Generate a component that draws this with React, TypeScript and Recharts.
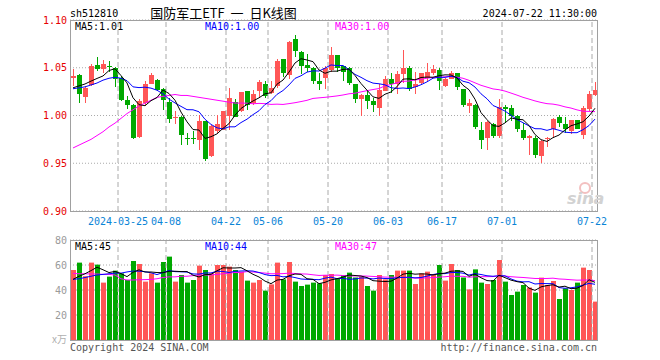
import React from 'react';
import { ComposedChart, Bar, Line, XAxis, YAxis, CartesianGrid, ReferenceLine } from 'recharts';

const dates = [
  '2024-03-13', '2024-03-14', '2024-03-15', '2024-03-18', '2024-03-19', '2024-03-20', '2024-03-21', '2024-03-22',
  '2024-03-25', '2024-03-26', '2024-03-27', '2024-03-28', '2024-03-29',
  '2024-04-01', '2024-04-02', '2024-04-03', '2024-04-08', '2024-04-09', '2024-04-10', '2024-04-11', '2024-04-12',
  '2024-04-15', '2024-04-16', '2024-04-17', '2024-04-18', '2024-04-19', '2024-04-22', '2024-04-23', '2024-04-24',
  '2024-04-25', '2024-04-26', '2024-04-29', '2024-04-30',
  '2024-05-06', '2024-05-07', '2024-05-08', '2024-05-09', '2024-05-10', '2024-05-13', '2024-05-14', '2024-05-15',
  '2024-05-16', '2024-05-17', '2024-05-20', '2024-05-21', '2024-05-22', '2024-05-23', '2024-05-24', '2024-05-27',
  '2024-05-28', '2024-05-29', '2024-05-30', '2024-05-31',
  '2024-06-03', '2024-06-04', '2024-06-05', '2024-06-06', '2024-06-07', '2024-06-11', '2024-06-12', '2024-06-13',
  '2024-06-14', '2024-06-17', '2024-06-18', '2024-06-19', '2024-06-20', '2024-06-21', '2024-06-24', '2024-06-25',
  '2024-06-26', '2024-06-27', '2024-06-28',
  '2024-07-01', '2024-07-02', '2024-07-03', '2024-07-04', '2024-07-05', '2024-07-08', '2024-07-09', '2024-07-10',
  '2024-07-11', '2024-07-12', '2024-07-15', '2024-07-16', '2024-07-17', '2024-07-18', '2024-07-19', '2024-07-22',
];

const opens = [
  1.039, 1.042, 1.019, 1.032, 1.053, 1.049, 1.052, 1.050, 1.0395, 1.016,
  1.0105, 0.977, 1.0133, 1.0335, 1.037, 1.028, 1.014, 0.997, 0.9986, 0.9765,
  0.976, 0.9748, 0.994, 0.9573, 0.9835, 0.9853, 1.000, 1.014, 1.0045, 1.0255,
  1.0133, 1.0255, 1.0335, 1.0238, 1.0307, 1.0587, 1.042, 1.0804, 1.0663, 1.0534,
  1.050, 1.036, 1.0395, 1.0475, 1.0629, 1.0517, 1.050, 1.0325, 1.0175, 1.021,
  1.015, 1.008, 1.026, 1.0385, 1.0325, 1.043, 1.050, 1.030, 1.0343, 1.0395,
  1.0447, 1.048, 1.0307, 1.0385, 1.044, 1.028, 1.0097, 1.0115, 0.985, 0.9766,
  0.9915, 0.979, 1.009, 1.008, 1.000, 0.9846, 0.9766, 0.9766, 0.9573, 0.975,
  0.986, 0.9986, 0.9916, 0.9835, 0.995, 0.980, 1.007, 1.021,
];
const highs = [
  1.049, 1.043, 1.031, 1.054, 1.061, 1.058, 1.057, 1.051, 1.041, 1.020,
  1.012, 1.017, 1.036, 1.044, 1.038, 1.029, 1.0185, 1.0045, 0.999, 0.982,
  0.9835, 1.001, 0.994, 0.990, 1.001, 1.005, 1.029, 1.0168, 1.025, 1.0255,
  1.027, 1.0367, 1.036, 1.036, 1.0594, 1.059, 1.078, 1.0838, 1.0674, 1.064,
  1.0505, 1.0447, 1.0517, 1.072, 1.063, 1.052, 1.051, 1.033, 1.022, 1.027,
  1.0185, 1.0325, 1.041, 1.0447, 1.0464, 1.0684, 1.052, 1.0454, 1.045, 1.0552,
  1.0534, 1.050, 1.0395, 1.0464, 1.0447, 1.028, 1.0175, 1.012, 0.993, 0.994,
  0.9924, 1.0168, 1.0105, 1.0105, 1.001, 0.9924, 0.980, 0.9783, 0.974, 0.978,
  0.9976, 1.001, 0.9986, 0.9955, 0.995, 1.0097, 1.0255, 1.035,
];
const lows = [
  1.031, 1.013, 1.013, 1.031, 1.046, 1.044, 1.046, 1.030, 1.015, 1.006,
  0.975, 0.976, 1.010, 1.033, 1.025, 1.006, 0.9927, 0.9906, 0.969, 0.9696,
  0.9696, 0.964, 0.952, 0.956, 0.982, 0.985, 0.985, 0.998, 1.0045, 1.006,
  1.0115, 1.0185, 1.0185, 1.022, 1.029, 1.040, 1.038, 1.061, 1.043, 1.0447,
  1.0325, 1.0265, 1.028, 1.046, 1.0447, 1.036, 1.0325, 1.0133, 0.9986, 1.007,
  1.0035, 0.9986, 1.025, 1.0238, 1.022, 1.0343, 1.0255, 1.022, 1.0325, 1.036,
  1.043, 1.027, 1.030, 1.038, 1.027, 1.009, 1.003, 0.986, 0.965, 0.964,
  0.9766, 0.9756, 0.993, 0.994, 0.9835, 0.975, 0.959, 0.9557, 0.9497, 0.9678,
  0.9766, 0.9888, 0.982, 0.981, 0.9853, 0.975, 1.0045, 1.020,
];
const closes = [
  1.041, 1.023, 1.029, 1.052, 1.049, 1.054, 1.0515, 1.0385, 1.016, 1.0105,
  0.9765, 1.015, 1.0335, 1.042, 1.027, 1.016, 0.9965, 0.9985, 0.980, 0.976,
  0.9755, 0.994, 0.9546, 0.9888, 0.991, 1.0045, 1.0185, 0.9986, 1.0244, 1.0115,
  1.023, 1.035, 1.020, 1.029, 1.0569, 1.0447, 1.0768, 1.0674, 1.0517, 1.050,
  1.036, 1.0332, 1.050, 1.0629, 1.050, 1.0454, 1.0343, 1.0168, 1.021, 1.015,
  1.0105, 1.0265, 1.0385, 1.0325, 1.043, 1.050, 1.028, 1.0332, 1.0447, 1.0454,
  1.049, 1.036, 1.0377, 1.044, 1.030, 1.0105, 1.0126, 0.988, 0.974, 0.993,
  0.979, 1.009, 1.0063, 1.000, 0.986, 0.9766, 0.979, 0.959, 0.973, 0.9766,
  0.9965, 0.9924, 0.986, 0.995, 0.986, 1.008, 1.022, 1.027,
];
// 成交量（万手）
const volumes = [
  56, 61.9, 51, 61.9, 60.3, 45.9, 50.7, 55.5, 53.3, 48,
  63.2, 60.8, 46.7, 53.3, 45.9, 62.4, 66.7, 46.7, 52, 45.9,
  48, 59.5, 56, 53.3, 60, 60, 58.7, 56, 54.7, 47.5,
  45.9, 48, 39.5, 44.5, 61.9, 48.5, 62.4, 46.7, 43.2, 44.3,
  45.9, 45.3, 52, 52.8, 49.3, 52, 53.9, 50, 50.7, 43.2,
  39.5, 52, 48.5, 52, 55.5, 55.5, 55.5, 44.8, 53.3, 54.7,
  52, 60, 47.5, 60.8, 56, 50, 40.5, 56.5, 45.9, 44.8,
  48, 64, 46.7, 36, 38.7, 44, 42, 37.9, 49.9, 44,
  47.2, 32.8, 41.3, 40, 45.9, 57.9, 56, 30.7,
];

// moving-average values before a full window exists
const ma5Head = [1.029, 1.031, 1.033, 1.036];
const ma10Head = [1.028, 1.029, 1.030, 1.032, 1.034, 1.037, 1.039, 1.040, 1.039];
const ma30Head = [
  0.966, 0.969, 0.972, 0.975, 0.979, 0.983, 0.988, 0.992, 0.997, 1.002,
  1.006, 1.010, 1.013, 1.016, 1.019, 1.020, 1.021, 1.022, 1.021, 1.021,
  1.020, 1.019, 1.018, 1.017, 1.016, 1.015, 1.014, 1.013, 1.013,
];
const vma5Head = [48.5, 51, 53, 55.5];
const vma10Head = [48.5, 49, 50, 51, 52, 52.5, 53, 53.5, 53.5];
const vma30Head = [
  53.3, 53, 53, 52.8, 52.8, 52.5, 52.5, 52, 49, 48,
  48, 48.2, 48.3, 48.5, 49, 50, 50.5, 50.5, 51, 51,
  51.5, 52, 52, 52, 52.5, 53, 53.5, 54, 54,
];

const dateTicks = ['2024-03-25', '2024-04-08', '2024-04-22', '2024-05-06', '2024-05-20', '2024-06-03', '2024-06-17', '2024-07-01', '2024-07-22'];
const priceTicks = [0.9, 0.95, 1.0, 1.05, 1.1];
const volTicks = [0, 20, 40, 60, 80];
const volTop = 80;
const mainLegend = ['1.01', '1.00', '1.00'];
const volLegend = ['45', '44', '47'];

const RED = '#ff5656';
const GREEN = '#00a800';
const MONO = '"DejaVu Sans Mono", "Liberation Mono", monospace';

const movingAvg = (vals: number[], n: number, head: number[]) =>
  vals.map((_, i) => {
    if (i < n - 1) return head[i];
    let s = 0;
    for (let k = i - n + 1; k <= i; k++) s += vals[k];
    return s / n;
  });

const ma5 = movingAvg(closes, 5, ma5Head);
const ma10 = movingAvg(closes, 10, ma10Head);
const ma30 = movingAvg(closes, 30, ma30Head);
const vma5 = movingAvg(volumes, 5, vma5Head);
const vma10 = movingAvg(volumes, 10, vma10Head);
const vma30 = movingAvg(volumes, 30, vma30Head);

const rows = dates.map((date, i) => ({
  date,
  open: opens[i],
  high: highs[i],
  low: lows[i],
  close: closes[i],
  volume: volumes[i],
  up: closes[i] >= opens[i],
  ma5: ma5[i],
  ma10: ma10[i],
  ma30: ma30[i],
  vma5: vma5[i],
  vma10: vma10[i],
  vma30: vma30[i],
}));

const Candle = (props: any) => {
  const { x, y, height, payload } = props;
  if (!payload) return null;
  const { open, close, high, low, up } = payload;
  const k = height / (high - low);
  const yOf = (v: number) => y + (high - v) * k;
  const color = up ? RED : GREEN;
  const left = Math.floor(x);
  const top = Math.round(yOf(Math.max(open, close)));
  const bottom = Math.round(yOf(Math.min(open, close)));
  return (
    <g>
      <rect x={left + 2} y={Math.round(y)} width={1} height={Math.max(1, Math.round(height))} fill={color} />
      <rect x={left} y={top} width={5} height={Math.max(1, bottom - top)} fill={color} />
    </g>
  );
};

const VolBar = (props: any) => {
  const { x, y, height, payload } = props;
  if (!payload) return null;
  return <rect x={Math.floor(x)} y={y} width={5} height={height} fill={payload.up ? RED : GREEN} />;
};

const DateTick = (props: any) => {
  const { x, y, payload } = props;
  const v: string = payload.value;
  const label = v === dateTicks[0] ? v : v.slice(5);
  return (
    <text x={x - 3} y={y + 14} textAnchor="middle" fill="#0a84d6" fontSize={10} fontFamily={MONO}>
      {label}
    </text>
  );
};

// volume axis: 0 is shown as the unit "x万"; the top value is written in the overlay
const VolTick = (props: any) => {
  const { x, y, payload } = props;
  const v: number = payload.value;
  if (v === volTop) return null;
  if (v === 0) {
    return (
      <text x={x} y={y + 3} textAnchor="end" fill="#b0b0b0" fontSize={10} fontFamily='"Noto Sans CJK SC", sans-serif'>
        x万
      </text>
    );
  }
  return (
    <text x={x} y={y + 4} textAnchor="end" fill="#9a9a9a" fontSize={10} fontFamily={MONO}>
      {v}
    </text>
  );
};

const gridLines = () =>
  dateTicks.map((d) => (
    <ReferenceLine key={d} x={d} position="start" stroke="#aaaaaa" strokeDasharray="5 3" />
  ));

export default function App() {
  return (
    <div style={{ position: 'absolute', left: 0, top: 0, width: 660, height: 360, background: '#fff' }}>
      <div style={{ position: 'absolute', left: 0, top: 0 }}>
        <ComposedChart width={660} height={230} data={rows} margin={{ top: 20, right: 62, bottom: 0, left: 0 }}>
          <CartesianGrid vertical={false} stroke="#aaaaaa" strokeDasharray="1 2" />
          {gridLines()}
          <XAxis
            dataKey="date"
            ticks={dateTicks}
            interval={0}
            height={19}
            axisLine={false}
            tickLine={false}
            tickSize={0}
            tickMargin={0}
            tick={<DateTick />}
          />
          <YAxis
            domain={[0.9, 1.1]}
            ticks={priceTicks}
            interval={0}
            width={70}
            axisLine={false}
            tickLine={false}
            tickSize={0}
            tickMargin={3}
            tickFormatter={(v: number) => v.toFixed(2)}
            tick={{ fill: '#e60000', fontSize: 10, fontFamily: MONO }}
          />
          <Bar dataKey={(d: any) => [d.low, d.high]} shape={<Candle />} barSize={5} isAnimationActive={false} />
          <Line type="linear" dataKey="ma30" stroke="#ff00ff" strokeWidth={1} dot={false} isAnimationActive={false} />
          <Line type="linear" dataKey="ma10" stroke="#0000ff" strokeWidth={1} dot={false} isAnimationActive={false} />
          <Line type="linear" dataKey="ma5" stroke="#000000" strokeWidth={1} dot={false} isAnimationActive={false} />
        </ComposedChart>
      </div>
      <div style={{ position: 'absolute', left: 0, top: 220 }}>
        <ComposedChart width={660} height={140} data={rows} margin={{ top: 20, right: 62, bottom: 20, left: 0 }}>
          <CartesianGrid vertical={false} stroke="#aaaaaa" strokeDasharray="1 2" />
          {gridLines()}
          <XAxis dataKey="date" hide />
          <YAxis
            type="number"
            domain={[0, volTop]}
            ticks={volTicks}
            interval={0}
            allowDataOverflow
            width={70}
            axisLine={false}
            tickLine={false}
            tickSize={0}
            tickMargin={3}
            tick={<VolTick />}
          />
          <Bar dataKey="volume" shape={<VolBar />} barSize={5} isAnimationActive={false} />
          <Line type="linear" dataKey="vma30" stroke="#ff00ff" strokeWidth={1} dot={false} isAnimationActive={false} />
          <Line type="linear" dataKey="vma10" stroke="#0000ff" strokeWidth={1} dot={false} isAnimationActive={false} />
          <Line type="linear" dataKey="vma5" stroke="#000000" strokeWidth={1} dot={false} isAnimationActive={false} />
        </ComposedChart>
      </div>
      <div style={{ position: 'absolute', left: 70, top: 20, width: 528, height: 192, boxSizing: 'border-box', border: '1px solid #a0a0a0', pointerEvents: 'none' }} />
      <div style={{ position: 'absolute', left: 70, top: 240, width: 528, height: 101, boxSizing: 'border-box', border: '1px solid #a0a0a0', pointerEvents: 'none' }} />
      <svg width={660} height={360} style={{ position: 'absolute', left: 0, top: 0, pointerEvents: 'none' }}>
        <g fontFamily={MONO} fontSize={10}>
          <text x={70} y={17} fill="#000">sh512810</text>
          <text x={597} y={17} fill="#000" textAnchor="end">2024-07-22 11:30:00</text>
          <text x={75} y={30} fill="#000">{`MA5:${mainLegend[0]}`}</text>
          <text x={205} y={30} fill="#0000ff">{`MA10:${mainLegend[1]}`}</text>
          <text x={335} y={30} fill="#ff00ff">{`MA30:${mainLegend[2]}`}</text>
          <text x={67} y={244} fill="#9a9a9a" textAnchor="end">{volTop}</text>
          <text x={75} y={250} fill="#000">{`MA5:${volLegend[0]}`}</text>
          <text x={205} y={250} fill="#0000ff">{`MA10:${volLegend[1]}`}</text>
          <text x={335} y={250} fill="#ff00ff">{`MA30:${volLegend[2]}`}</text>
          <text x={70} y={351} fill="#555">Copyright 2024 SINA.COM</text>
          <text x={597} y={351} fill="#555" textAnchor="end">http://finance.sina.com.cn</text>
        </g>
        <text x={223.5} y={18} textAnchor="middle" fontSize={13} fontFamily='"Noto Sans CJK SC", sans-serif' fill="#000">
          {'国防军工ETF\u00a0\u00a0一\u00a0\u00a0日K线图'}
        </text>
        <circle cx={585} cy={188} r={5} fill="none" stroke="#f3c0c0" strokeWidth={2} />
        <text x={567} y={204} fontSize={16} fontStyle="italic" fontWeight="bold" fontFamily="'DejaVu Sans', sans-serif" fill="#d2d2d2">
          sina
        </text>
      </svg>
    </div>
  );
}
